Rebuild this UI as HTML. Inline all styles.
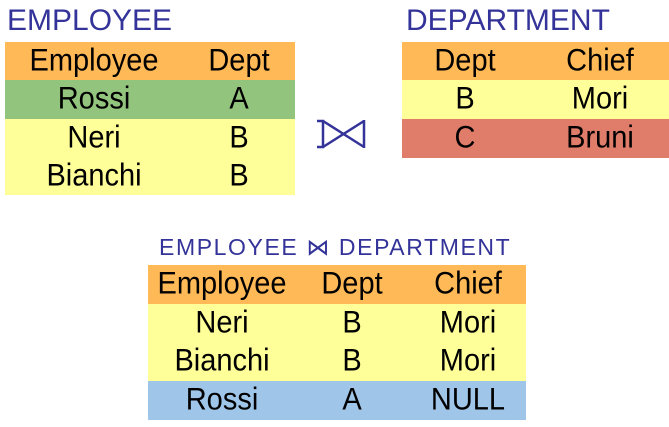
<!DOCTYPE html>
<html><head><style>
body{margin:0;width:669px;height:427px;background:#fff;position:relative;font-family:"Liberation Sans",sans-serif;overflow:hidden}
.t{position:absolute;color:#333399;white-space:nowrap}
.r{position:absolute;display:flex;align-items:center;font-size:29px;color:#000}
.r span{position:absolute;transform:translateX(-50%) scaleY(1.08);white-space:nowrap}
</style></head><body>
<div class="t" style="left:7px;top:4px;font-size:30px">EMPLOYEE</div>
<div class="t" style="left:406px;top:4px;font-size:30px">DEPARTMENT</div>

<div class="r" style="left:5px;top:42px;width:290px;height:38px;background:#FFB957"><span style="left:89px">Employee</span><span style="left:234px">Dept</span></div>
<div class="r" style="left:5px;top:80px;width:290px;height:39px;background:#93C47D"><span style="left:89px">Rossi</span><span style="left:234px">A</span></div>
<div class="r" style="left:5px;top:119px;width:290px;height:76px;background:#FFFF99"></div>
<div class="r" style="left:5px;top:119px;width:290px;height:38px"><span style="left:89px">Neri</span><span style="left:234px">B</span></div>
<div class="r" style="left:5px;top:157px;width:290px;height:38px"><span style="left:89px">Bianchi</span><span style="left:234px">B</span></div>

<svg style="position:absolute;left:0;top:0" width="669" height="427">
<g fill="none" stroke="#333399" stroke-width="2.5">
<path d="M317 121H323V147H317M323 121L364 147M323 147L364 121M364 120V148"/>
</g></svg>

<div class="r" style="left:402px;top:42px;width:267px;height:38px;background:#FFB957"><span style="left:63px">Dept</span><span style="left:198px">Chief</span></div>
<div class="r" style="left:402px;top:80px;width:267px;height:39px;background:#FFFF99"><span style="left:63px">B</span><span style="left:198px">Mori</span></div>
<div class="r" style="left:402px;top:119px;width:267px;height:39px;background:#E07C6A"><span style="left:63px">C</span><span style="left:198px">Bruni</span></div>

<div class="t" style="left:159px;top:234px;font-size:23px;letter-spacing:1.6px">EMPLOYEE ⋈ DEPARTMENT</div>
<div class="r" style="left:148px;top:265px;width:378px;height:39px;background:#FFB957"><span style="left:74px">Employee</span><span style="left:204px">Dept</span><span style="left:320px">Chief</span></div>
<div class="r" style="left:148px;top:304px;width:378px;height:77px;background:#FFFF99"></div>
<div class="r" style="left:148px;top:304px;width:378px;height:38px"><span style="left:74px">Neri</span><span style="left:204px">B</span><span style="left:320px">Mori</span></div>
<div class="r" style="left:148px;top:342px;width:378px;height:39px"><span style="left:74px">Bianchi</span><span style="left:204px">B</span><span style="left:320px">Mori</span></div>
<div class="r" style="left:148px;top:381px;width:378px;height:39px;background:#9FC5E8"><span style="left:74px">Rossi</span><span style="left:204px">A</span><span style="left:320px">NULL</span></div>
</body></html>
